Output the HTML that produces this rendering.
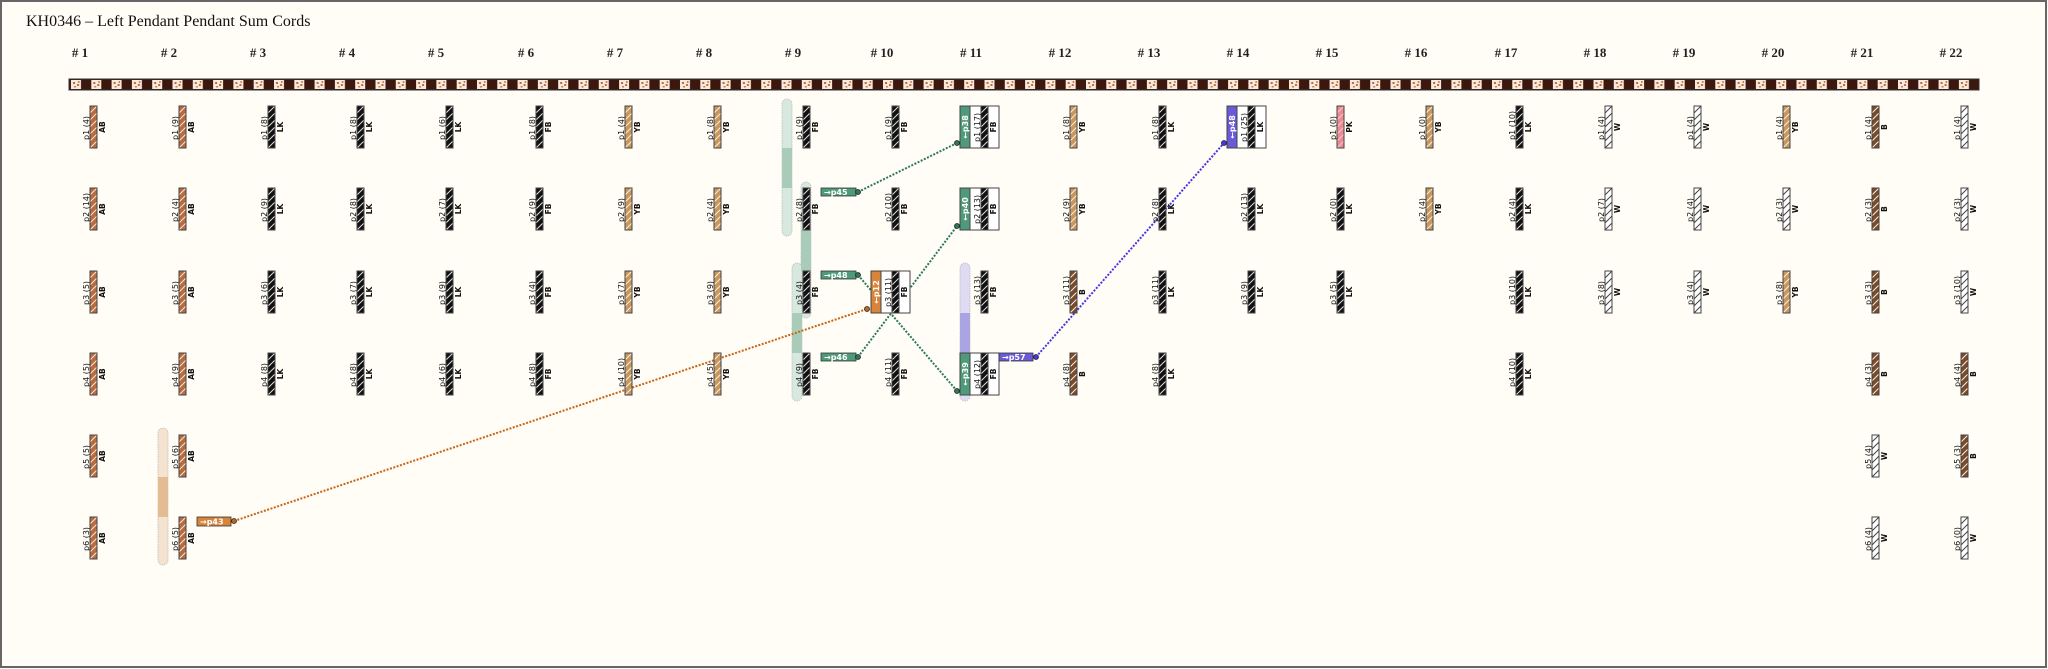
<!DOCTYPE html>
<html><head><meta charset="utf-8"><style>
html,body{margin:0;padding:0;background:#fffdf6;}
svg{display:block}
.l{font-family:"DejaVu Sans","Liberation Sans",sans-serif;font-size:8px;fill:#111;}
.c{font-family:"DejaVu Sans","Liberation Sans",sans-serif;font-size:7.5px;font-weight:bold;fill:#111;text-anchor:middle;}
.h{font-family:"Liberation Serif",serif;font-size:13px;font-weight:bold;fill:#222;text-anchor:middle;}
.t{font-family:"DejaVu Sans","Liberation Sans",sans-serif;font-size:8px;font-weight:bold;fill:#fff;}
.pd{stroke:#444;stroke-width:1;}
</style></head><body>
<svg width="2048" height="669" viewBox="0 0 2048 669" xmlns="http://www.w3.org/2000/svg">
<defs>
<pattern id="AB" width="7" height="7" patternUnits="userSpaceOnUse"><rect width="7" height="7" fill="#b96b3d"/><path d="M0 7L7 0" stroke="#f4e6dc" stroke-width="1"/></pattern>
<pattern id="B" width="7" height="7" patternUnits="userSpaceOnUse"><rect width="7" height="7" fill="#7b4a28"/><path d="M0 7L7 0" stroke="#eee" stroke-width="1"/></pattern>
<pattern id="YB" width="7" height="7" patternUnits="userSpaceOnUse"><rect width="7" height="7" fill="#c9965c"/><path d="M0 7L7 0" stroke="#f6eee0" stroke-width="1"/></pattern>
<pattern id="K" width="7" height="7" patternUnits="userSpaceOnUse"><rect width="7" height="7" fill="#111"/><path d="M0 7L7 0" stroke="#ddd" stroke-width="1"/></pattern>
<pattern id="W" width="7" height="7" patternUnits="userSpaceOnUse"><rect width="7" height="7" fill="#fff"/><path d="M0 7L7 0" stroke="#444" stroke-width="1"/></pattern>
<pattern id="PK" width="7" height="7" patternUnits="userSpaceOnUse"><rect width="7" height="7" fill="#ec8c8a"/><path d="M0 7L7 0" stroke="#fbe" stroke-width="1"/></pattern>
<pattern id="PC" x="69" y="79" width="20.3" height="11" patternUnits="userSpaceOnUse"><rect width="20.3" height="11" fill="#3b170d"/><rect x="2" y="1" width="10" height="9" fill="#f7ebe0"/><rect x="4" y="3" width="2" height="2" fill="#c8662e"/><rect x="8" y="5" width="2" height="2" fill="#c8662e"/><rect x="5" y="7" width="2" height="1.5" fill="#d07a44"/><rect x="9" y="2" width="1.5" height="2" fill="#d07a44"/></pattern>
</defs>
<rect x="1" y="1" width="2045" height="666" fill="#fffdf6" stroke="#666" stroke-width="2"/>
<text x="26" y="26" font-family="Liberation Serif,serif" font-size="16" fill="#111">KH0346 – Left Pendant Pendant Sum Cords</text>
<g>
<text class="h" x="80" y="57"># 1</text><text class="h" x="169" y="57"># 2</text><text class="h" x="258" y="57"># 3</text><text class="h" x="347" y="57"># 4</text><text class="h" x="436" y="57"># 5</text><text class="h" x="526" y="57"># 6</text><text class="h" x="615" y="57"># 7</text><text class="h" x="704" y="57"># 8</text><text class="h" x="793" y="57"># 9</text><text class="h" x="882" y="57"># 10</text><text class="h" x="971" y="57"># 11</text><text class="h" x="1060" y="57"># 12</text><text class="h" x="1149" y="57"># 13</text><text class="h" x="1238" y="57"># 14</text><text class="h" x="1327" y="57"># 15</text><text class="h" x="1416" y="57"># 16</text><text class="h" x="1506" y="57"># 17</text><text class="h" x="1595" y="57"># 18</text><text class="h" x="1684" y="57"># 19</text><text class="h" x="1773" y="57"># 20</text><text class="h" x="1862" y="57"># 21</text><text class="h" x="1951" y="57"># 22</text>
</g>
<rect x="69" y="79" width="1910" height="11" fill="url(#PC)" stroke="#333" stroke-width="1"/>

<!-- pills -->
<g stroke="#bbb" stroke-width="0.8" stroke-dasharray="1.5 1">
<rect x="782" y="99" width="10" height="137" rx="5" fill="#d7e9de"/>
<rect x="801" y="182" width="10" height="136" rx="5" fill="#d7e9de"/>
<rect x="792" y="263" width="10" height="138" rx="5" fill="#d7e9de"/>
<rect x="960" y="263" width="10" height="138" rx="5" fill="#dedbf2"/>
<rect x="158" y="428" width="10" height="137" rx="5" fill="#f3e3cf"/>
</g>
<rect x="782" y="148" width="10" height="40" fill="#a9ccb8"/>
<rect x="801" y="230" width="10" height="41" fill="#a9ccb8"/>
<rect x="792" y="313" width="10" height="40" fill="#a9ccb8"/>
<rect x="960" y="313" width="10" height="40" fill="#aaa4e2"/>
<rect x="158" y="477" width="10" height="40" fill="#e3bc93"/>

<!-- connector lines -->
<g fill="none" stroke-width="2" stroke-dasharray="2 1.5">
<path d="M858 192L957 143M858 275L957 391M858 357L957 226" stroke="#2a7a5a"/>
<path d="M234 521L867 309" stroke="#c86416"/>
<path d="M1036 357L1224 143" stroke="#4636e0"/>
</g>

<!-- pendants -->
<g id="c1">
<g transform="translate(90,106)"><rect class="pd" fill="url(#AB)" width="7" height="42"/><text class="l" transform="translate(-1,34) rotate(-90)">p1 (4)</text><text class="c" transform="translate(15,21) rotate(-90)">AB</text></g>
<g transform="translate(90,188)"><rect class="pd" fill="url(#AB)" width="7" height="42"/><text class="l" transform="translate(-1,34) rotate(-90)">p2 (14)</text><text class="c" transform="translate(15,21) rotate(-90)">AB</text></g>
<g transform="translate(90,271)"><rect class="pd" fill="url(#AB)" width="7" height="42"/><text class="l" transform="translate(-1,34) rotate(-90)">p3 (5)</text><text class="c" transform="translate(15,21) rotate(-90)">AB</text></g>
<g transform="translate(90,353)"><rect class="pd" fill="url(#AB)" width="7" height="42"/><text class="l" transform="translate(-1,34) rotate(-90)">p4 (5)</text><text class="c" transform="translate(15,21) rotate(-90)">AB</text></g>
<g transform="translate(90,435)"><rect class="pd" fill="url(#AB)" width="7" height="42"/><text class="l" transform="translate(-1,34) rotate(-90)">p5 (5)</text><text class="c" transform="translate(15,21) rotate(-90)">AB</text></g>
<g transform="translate(90,517)"><rect class="pd" fill="url(#AB)" width="7" height="42"/><text class="l" transform="translate(-1,34) rotate(-90)">p6 (3)</text><text class="c" transform="translate(15,21) rotate(-90)">AB</text></g>
</g>
<g id="c2">
<g transform="translate(179,106)"><rect class="pd" fill="url(#AB)" width="7" height="42"/><text class="l" transform="translate(-1,34) rotate(-90)">p1 (9)</text><text class="c" transform="translate(15,21) rotate(-90)">AB</text></g>
<g transform="translate(179,188)"><rect class="pd" fill="url(#AB)" width="7" height="42"/><text class="l" transform="translate(-1,34) rotate(-90)">p2 (4)</text><text class="c" transform="translate(15,21) rotate(-90)">AB</text></g>
<g transform="translate(179,271)"><rect class="pd" fill="url(#AB)" width="7" height="42"/><text class="l" transform="translate(-1,34) rotate(-90)">p3 (5)</text><text class="c" transform="translate(15,21) rotate(-90)">AB</text></g>
<g transform="translate(179,353)"><rect class="pd" fill="url(#AB)" width="7" height="42"/><text class="l" transform="translate(-1,34) rotate(-90)">p4 (9)</text><text class="c" transform="translate(15,21) rotate(-90)">AB</text></g>
<g transform="translate(179,435)"><rect class="pd" fill="url(#AB)" width="7" height="42"/><text class="l" transform="translate(-1,34) rotate(-90)">p5 (6)</text><text class="c" transform="translate(15,21) rotate(-90)">AB</text></g>
<g transform="translate(179,517)"><rect class="pd" fill="url(#AB)" width="7" height="42"/><text class="l" transform="translate(-1,34) rotate(-90)">p6 (5)</text><text class="c" transform="translate(15,21) rotate(-90)">AB</text></g>
</g>
<g>
<g transform="translate(268,106)"><rect class="pd" fill="url(#K)" width="7" height="42"/><text class="l" transform="translate(-1,34) rotate(-90)">p1 (8)</text><text class="c" transform="translate(15,21) rotate(-90)">LK</text></g>
<g transform="translate(268,188)"><rect class="pd" fill="url(#K)" width="7" height="42"/><text class="l" transform="translate(-1,34) rotate(-90)">p2 (9)</text><text class="c" transform="translate(15,21) rotate(-90)">LK</text></g>
<g transform="translate(268,271)"><rect class="pd" fill="url(#K)" width="7" height="42"/><text class="l" transform="translate(-1,34) rotate(-90)">p3 (6)</text><text class="c" transform="translate(15,21) rotate(-90)">LK</text></g>
<g transform="translate(268,353)"><rect class="pd" fill="url(#K)" width="7" height="42"/><text class="l" transform="translate(-1,34) rotate(-90)">p4 (8)</text><text class="c" transform="translate(15,21) rotate(-90)">LK</text></g>
<g transform="translate(357,106)"><rect class="pd" fill="url(#K)" width="7" height="42"/><text class="l" transform="translate(-1,34) rotate(-90)">p1 (8)</text><text class="c" transform="translate(15,21) rotate(-90)">LK</text></g>
<g transform="translate(357,188)"><rect class="pd" fill="url(#K)" width="7" height="42"/><text class="l" transform="translate(-1,34) rotate(-90)">p2 (8)</text><text class="c" transform="translate(15,21) rotate(-90)">LK</text></g>
<g transform="translate(357,271)"><rect class="pd" fill="url(#K)" width="7" height="42"/><text class="l" transform="translate(-1,34) rotate(-90)">p3 (7)</text><text class="c" transform="translate(15,21) rotate(-90)">LK</text></g>
<g transform="translate(357,353)"><rect class="pd" fill="url(#K)" width="7" height="42"/><text class="l" transform="translate(-1,34) rotate(-90)">p4 (8)</text><text class="c" transform="translate(15,21) rotate(-90)">LK</text></g>
<g transform="translate(446,106)"><rect class="pd" fill="url(#K)" width="7" height="42"/><text class="l" transform="translate(-1,34) rotate(-90)">p1 (6)</text><text class="c" transform="translate(15,21) rotate(-90)">LK</text></g>
<g transform="translate(446,188)"><rect class="pd" fill="url(#K)" width="7" height="42"/><text class="l" transform="translate(-1,34) rotate(-90)">p2 (7)</text><text class="c" transform="translate(15,21) rotate(-90)">LK</text></g>
<g transform="translate(446,271)"><rect class="pd" fill="url(#K)" width="7" height="42"/><text class="l" transform="translate(-1,34) rotate(-90)">p3 (9)</text><text class="c" transform="translate(15,21) rotate(-90)">LK</text></g>
<g transform="translate(446,353)"><rect class="pd" fill="url(#K)" width="7" height="42"/><text class="l" transform="translate(-1,34) rotate(-90)">p4 (6)</text><text class="c" transform="translate(15,21) rotate(-90)">LK</text></g>
<g transform="translate(536,106)"><rect class="pd" fill="url(#K)" width="7" height="42"/><text class="l" transform="translate(-1,34) rotate(-90)">p1 (8)</text><text class="c" transform="translate(15,21) rotate(-90)">FB</text></g>
<g transform="translate(536,188)"><rect class="pd" fill="url(#K)" width="7" height="42"/><text class="l" transform="translate(-1,34) rotate(-90)">p2 (9)</text><text class="c" transform="translate(15,21) rotate(-90)">FB</text></g>
<g transform="translate(536,271)"><rect class="pd" fill="url(#K)" width="7" height="42"/><text class="l" transform="translate(-1,34) rotate(-90)">p3 (4)</text><text class="c" transform="translate(15,21) rotate(-90)">FB</text></g>
<g transform="translate(536,353)"><rect class="pd" fill="url(#K)" width="7" height="42"/><text class="l" transform="translate(-1,34) rotate(-90)">p4 (8)</text><text class="c" transform="translate(15,21) rotate(-90)">FB</text></g>
<g transform="translate(625,106)"><rect class="pd" fill="url(#YB)" width="7" height="42"/><text class="l" transform="translate(-1,34) rotate(-90)">p1 (4)</text><text class="c" transform="translate(15,21) rotate(-90)">YB</text></g>
<g transform="translate(625,188)"><rect class="pd" fill="url(#YB)" width="7" height="42"/><text class="l" transform="translate(-1,34) rotate(-90)">p2 (9)</text><text class="c" transform="translate(15,21) rotate(-90)">YB</text></g>
<g transform="translate(625,271)"><rect class="pd" fill="url(#YB)" width="7" height="42"/><text class="l" transform="translate(-1,34) rotate(-90)">p3 (7)</text><text class="c" transform="translate(15,21) rotate(-90)">YB</text></g>
<g transform="translate(625,353)"><rect class="pd" fill="url(#YB)" width="7" height="42"/><text class="l" transform="translate(-1,34) rotate(-90)">p4 (10)</text><text class="c" transform="translate(15,21) rotate(-90)">YB</text></g>
<g transform="translate(714,106)"><rect class="pd" fill="url(#YB)" width="7" height="42"/><text class="l" transform="translate(-1,34) rotate(-90)">p1 (8)</text><text class="c" transform="translate(15,21) rotate(-90)">YB</text></g>
<g transform="translate(714,188)"><rect class="pd" fill="url(#YB)" width="7" height="42"/><text class="l" transform="translate(-1,34) rotate(-90)">p2 (4)</text><text class="c" transform="translate(15,21) rotate(-90)">YB</text></g>
<g transform="translate(714,271)"><rect class="pd" fill="url(#YB)" width="7" height="42"/><text class="l" transform="translate(-1,34) rotate(-90)">p3 (9)</text><text class="c" transform="translate(15,21) rotate(-90)">YB</text></g>
<g transform="translate(714,353)"><rect class="pd" fill="url(#YB)" width="7" height="42"/><text class="l" transform="translate(-1,34) rotate(-90)">p4 (5)</text><text class="c" transform="translate(15,21) rotate(-90)">YB</text></g>
<!-- col9 -->
<g transform="translate(803,106)"><rect class="pd" fill="url(#K)" width="7" height="42"/><text class="l" transform="translate(-1,34) rotate(-90)">p1 (9)</text><text class="c" transform="translate(15,21) rotate(-90)">FB</text></g>
<g transform="translate(803,188)"><rect class="pd" fill="url(#K)" width="7" height="42"/><text class="l" transform="translate(-1,34) rotate(-90)">p2 (8)</text><text class="c" transform="translate(15,21) rotate(-90)">FB</text></g>
<g transform="translate(803,271)"><rect class="pd" fill="url(#K)" width="7" height="42"/><text class="l" transform="translate(-1,34) rotate(-90)">p3 (4)</text><text class="c" transform="translate(15,21) rotate(-90)">FB</text></g>
<g transform="translate(803,353)"><rect class="pd" fill="url(#K)" width="7" height="42"/><text class="l" transform="translate(-1,34) rotate(-90)">p4 (9)</text><text class="c" transform="translate(15,21) rotate(-90)">FB</text></g>
<!-- col10 -->
<g transform="translate(892,106)"><rect class="pd" fill="url(#K)" width="7" height="42"/><text class="l" transform="translate(-1,34) rotate(-90)">p1 (9)</text><text class="c" transform="translate(15,21) rotate(-90)">FB</text></g>
<g transform="translate(892,188)"><rect class="pd" fill="url(#K)" width="7" height="42"/><text class="l" transform="translate(-1,34) rotate(-90)">p2 (10)</text><text class="c" transform="translate(15,21) rotate(-90)">FB</text></g>
<g transform="translate(892,271)"><rect x="-21" width="39" height="42" fill="#fff" stroke="#444"/><rect x="-21" width="10" height="42" fill="#d8843a" stroke="#444"/><text class="t" text-anchor="middle" transform="translate(-13,21) rotate(-90)">←p12</text><rect class="pd" fill="url(#K)" width="7" height="42"/><text class="l" transform="translate(-1,36) rotate(-90)">p3 (11)</text><text class="c" transform="translate(15,21) rotate(-90)">FB</text></g>
<g transform="translate(892,353)"><rect class="pd" fill="url(#K)" width="7" height="42"/><text class="l" transform="translate(-1,34) rotate(-90)">p4 (11)</text><text class="c" transform="translate(15,21) rotate(-90)">FB</text></g>
<!-- col11 -->
<g transform="translate(981,106)"><rect x="-21" width="39" height="42" fill="#fff" stroke="#444"/><rect x="-21" width="10" height="42" fill="#4f9a7a" stroke="#444"/><text class="t" text-anchor="middle" transform="translate(-13,21) rotate(-90)">←p38</text><rect class="pd" fill="url(#K)" width="7" height="42"/><text class="l" transform="translate(-1,36) rotate(-90)">p1 (17)</text><text class="c" transform="translate(15,21) rotate(-90)">FB</text></g>
<g transform="translate(981,188)"><rect x="-21" width="39" height="42" fill="#fff" stroke="#444"/><rect x="-21" width="10" height="42" fill="#4f9a7a" stroke="#444"/><text class="t" text-anchor="middle" transform="translate(-13,21) rotate(-90)">←p40</text><rect class="pd" fill="url(#K)" width="7" height="42"/><text class="l" transform="translate(-1,36) rotate(-90)">p2 (13)</text><text class="c" transform="translate(15,21) rotate(-90)">FB</text></g>
<g transform="translate(981,271)"><rect class="pd" fill="url(#K)" width="7" height="42"/><text class="l" transform="translate(-1,34) rotate(-90)">p3 (13)</text><text class="c" transform="translate(15,21) rotate(-90)">FB</text></g>
<g transform="translate(981,353)"><rect x="-21" width="39" height="42" fill="#fff" stroke="#444"/><rect x="-21" width="10" height="42" fill="#4f9a7a" stroke="#444"/><text class="t" text-anchor="middle" transform="translate(-13,21) rotate(-90)">←p39</text><rect class="pd" fill="url(#K)" width="7" height="42"/><text class="l" transform="translate(-1,36) rotate(-90)">p4 (12)</text><text class="c" transform="translate(15,21) rotate(-90)">FB</text></g>
<!-- col12 -->
<g transform="translate(1070,106)"><rect class="pd" fill="url(#YB)" width="7" height="42"/><text class="l" transform="translate(-1,34) rotate(-90)">p1 (8)</text><text class="c" transform="translate(15,21) rotate(-90)">YB</text></g>
<g transform="translate(1070,188)"><rect class="pd" fill="url(#YB)" width="7" height="42"/><text class="l" transform="translate(-1,34) rotate(-90)">p2 (9)</text><text class="c" transform="translate(15,21) rotate(-90)">YB</text></g>
<g transform="translate(1070,271)"><rect class="pd" fill="url(#B)" width="7" height="42"/><text class="l" transform="translate(-1,34) rotate(-90)">p3 (11)</text><text class="c" transform="translate(15,21) rotate(-90)">B</text></g>
<g transform="translate(1070,353)"><rect class="pd" fill="url(#B)" width="7" height="42"/><text class="l" transform="translate(-1,34) rotate(-90)">p4 (8)</text><text class="c" transform="translate(15,21) rotate(-90)">B</text></g>
<!-- col13 -->
<g transform="translate(1159,106)"><rect class="pd" fill="url(#K)" width="7" height="42"/><text class="l" transform="translate(-1,34) rotate(-90)">p1 (8)</text><text class="c" transform="translate(15,21) rotate(-90)">LK</text></g>
<g transform="translate(1159,188)"><rect class="pd" fill="url(#K)" width="7" height="42"/><text class="l" transform="translate(-1,34) rotate(-90)">p2 (8)</text><text class="c" transform="translate(15,21) rotate(-90)">LK</text></g>
<g transform="translate(1159,271)"><rect class="pd" fill="url(#K)" width="7" height="42"/><text class="l" transform="translate(-1,34) rotate(-90)">p3 (11)</text><text class="c" transform="translate(15,21) rotate(-90)">LK</text></g>
<g transform="translate(1159,353)"><rect class="pd" fill="url(#K)" width="7" height="42"/><text class="l" transform="translate(-1,34) rotate(-90)">p4 (8)</text><text class="c" transform="translate(15,21) rotate(-90)">LK</text></g>
<!-- col14 -->
<g transform="translate(1248,106)"><rect x="-21" width="39" height="42" fill="#fff" stroke="#444"/><rect x="-21" width="10" height="42" fill="#6a5ad8" stroke="#444"/><text class="t" text-anchor="middle" transform="translate(-13,21) rotate(-90)">←p48</text><rect class="pd" fill="url(#K)" width="7" height="42"/><text class="l" transform="translate(-1,36) rotate(-90)">p1 (25)</text><text class="c" transform="translate(15,21) rotate(-90)">LK</text></g>
<g transform="translate(1248,188)"><rect class="pd" fill="url(#K)" width="7" height="42"/><text class="l" transform="translate(-1,34) rotate(-90)">p2 (13)</text><text class="c" transform="translate(15,21) rotate(-90)">LK</text></g>
<g transform="translate(1248,271)"><rect class="pd" fill="url(#K)" width="7" height="42"/><text class="l" transform="translate(-1,34) rotate(-90)">p3 (9)</text><text class="c" transform="translate(15,21) rotate(-90)">LK</text></g>
<!-- col15 -->
<g transform="translate(1337,106)"><rect class="pd" fill="url(#PK)" width="7" height="42"/><text class="l" transform="translate(-1,34) rotate(-90)">p1 (0)</text><text class="c" transform="translate(15,21) rotate(-90)">PK</text></g>
<g transform="translate(1337,188)"><rect class="pd" fill="url(#K)" width="7" height="42"/><text class="l" transform="translate(-1,34) rotate(-90)">p2 (0)</text><text class="c" transform="translate(15,21) rotate(-90)">LK</text></g>
<g transform="translate(1337,271)"><rect class="pd" fill="url(#K)" width="7" height="42"/><text class="l" transform="translate(-1,34) rotate(-90)">p3 (5)</text><text class="c" transform="translate(15,21) rotate(-90)">LK</text></g>
<!-- col16 -->
<g transform="translate(1426,106)"><rect class="pd" fill="url(#YB)" width="7" height="42"/><text class="l" transform="translate(-1,34) rotate(-90)">p1 (0)</text><text class="c" transform="translate(15,21) rotate(-90)">YB</text></g>
<g transform="translate(1426,188)"><rect class="pd" fill="url(#YB)" width="7" height="42"/><text class="l" transform="translate(-1,34) rotate(-90)">p2 (4)</text><text class="c" transform="translate(15,21) rotate(-90)">YB</text></g>
<!-- col17 -->
<g transform="translate(1516,106)"><rect class="pd" fill="url(#K)" width="7" height="42"/><text class="l" transform="translate(-1,34) rotate(-90)">p1 (10)</text><text class="c" transform="translate(15,21) rotate(-90)">LK</text></g>
<g transform="translate(1516,188)"><rect class="pd" fill="url(#K)" width="7" height="42"/><text class="l" transform="translate(-1,34) rotate(-90)">p2 (4)</text><text class="c" transform="translate(15,21) rotate(-90)">LK</text></g>
<g transform="translate(1516,271)"><rect class="pd" fill="url(#K)" width="7" height="42"/><text class="l" transform="translate(-1,34) rotate(-90)">p3 (10)</text><text class="c" transform="translate(15,21) rotate(-90)">LK</text></g>
<g transform="translate(1516,353)"><rect class="pd" fill="url(#K)" width="7" height="42"/><text class="l" transform="translate(-1,34) rotate(-90)">p4 (10)</text><text class="c" transform="translate(15,21) rotate(-90)">LK</text></g>
<!-- col18 -->
<g transform="translate(1605,106)"><rect class="pd" fill="url(#W)" width="7" height="42"/><text class="l" transform="translate(-1,34) rotate(-90)">p1 (4)</text><text class="c" transform="translate(15,21) rotate(-90)">W</text></g>
<g transform="translate(1605,188)"><rect class="pd" fill="url(#W)" width="7" height="42"/><text class="l" transform="translate(-1,34) rotate(-90)">p2 (7)</text><text class="c" transform="translate(15,21) rotate(-90)">W</text></g>
<g transform="translate(1605,271)"><rect class="pd" fill="url(#W)" width="7" height="42"/><text class="l" transform="translate(-1,34) rotate(-90)">p3 (8)</text><text class="c" transform="translate(15,21) rotate(-90)">W</text></g>
<!-- col19 -->
<g transform="translate(1694,106)"><rect class="pd" fill="url(#W)" width="7" height="42"/><text class="l" transform="translate(-1,34) rotate(-90)">p1 (4)</text><text class="c" transform="translate(15,21) rotate(-90)">W</text></g>
<g transform="translate(1694,188)"><rect class="pd" fill="url(#W)" width="7" height="42"/><text class="l" transform="translate(-1,34) rotate(-90)">p2 (4)</text><text class="c" transform="translate(15,21) rotate(-90)">W</text></g>
<g transform="translate(1694,271)"><rect class="pd" fill="url(#W)" width="7" height="42"/><text class="l" transform="translate(-1,34) rotate(-90)">p3 (4)</text><text class="c" transform="translate(15,21) rotate(-90)">W</text></g>
<!-- col20 -->
<g transform="translate(1783,106)"><rect class="pd" fill="url(#YB)" width="7" height="42"/><text class="l" transform="translate(-1,34) rotate(-90)">p1 (4)</text><text class="c" transform="translate(15,21) rotate(-90)">YB</text></g>
<g transform="translate(1783,188)"><rect class="pd" fill="url(#W)" width="7" height="42"/><text class="l" transform="translate(-1,34) rotate(-90)">p2 (3)</text><text class="c" transform="translate(15,21) rotate(-90)">W</text></g>
<g transform="translate(1783,271)"><rect class="pd" fill="url(#YB)" width="7" height="42"/><text class="l" transform="translate(-1,34) rotate(-90)">p3 (8)</text><text class="c" transform="translate(15,21) rotate(-90)">YB</text></g>
<!-- col21 -->
<g transform="translate(1872,106)"><rect class="pd" fill="url(#B)" width="7" height="42"/><text class="l" transform="translate(-1,34) rotate(-90)">p1 (4)</text><text class="c" transform="translate(15,21) rotate(-90)">B</text></g>
<g transform="translate(1872,188)"><rect class="pd" fill="url(#B)" width="7" height="42"/><text class="l" transform="translate(-1,34) rotate(-90)">p2 (3)</text><text class="c" transform="translate(15,21) rotate(-90)">B</text></g>
<g transform="translate(1872,271)"><rect class="pd" fill="url(#B)" width="7" height="42"/><text class="l" transform="translate(-1,34) rotate(-90)">p3 (3)</text><text class="c" transform="translate(15,21) rotate(-90)">B</text></g>
<g transform="translate(1872,353)"><rect class="pd" fill="url(#B)" width="7" height="42"/><text class="l" transform="translate(-1,34) rotate(-90)">p4 (3)</text><text class="c" transform="translate(15,21) rotate(-90)">B</text></g>
<g transform="translate(1872,435)"><rect class="pd" fill="url(#W)" width="7" height="42"/><text class="l" transform="translate(-1,34) rotate(-90)">p5 (4)</text><text class="c" transform="translate(15,21) rotate(-90)">W</text></g>
<g transform="translate(1872,517)"><rect class="pd" fill="url(#W)" width="7" height="42"/><text class="l" transform="translate(-1,34) rotate(-90)">p6 (4)</text><text class="c" transform="translate(15,21) rotate(-90)">W</text></g>
<!-- col22 -->
<g transform="translate(1961,106)"><rect class="pd" fill="url(#W)" width="7" height="42"/><text class="l" transform="translate(-1,34) rotate(-90)">p1 (4)</text><text class="c" transform="translate(15,21) rotate(-90)">W</text></g>
<g transform="translate(1961,188)"><rect class="pd" fill="url(#W)" width="7" height="42"/><text class="l" transform="translate(-1,34) rotate(-90)">p2 (3)</text><text class="c" transform="translate(15,21) rotate(-90)">W</text></g>
<g transform="translate(1961,271)"><rect class="pd" fill="url(#W)" width="7" height="42"/><text class="l" transform="translate(-1,34) rotate(-90)">p3 (10)</text><text class="c" transform="translate(15,21) rotate(-90)">W</text></g>
<g transform="translate(1961,353)"><rect class="pd" fill="url(#B)" width="7" height="42"/><text class="l" transform="translate(-1,34) rotate(-90)">p4 (4)</text><text class="c" transform="translate(15,21) rotate(-90)">B</text></g>
<g transform="translate(1961,435)"><rect class="pd" fill="url(#B)" width="7" height="42"/><text class="l" transform="translate(-1,34) rotate(-90)">p5 (3)</text><text class="c" transform="translate(15,21) rotate(-90)">B</text></g>
<g transform="translate(1961,517)"><rect class="pd" fill="url(#W)" width="7" height="42"/><text class="l" transform="translate(-1,34) rotate(-90)">p6 (0)</text><text class="c" transform="translate(15,21) rotate(-90)">W</text></g>
</g>

<!-- tags -->
<g stroke="#333" stroke-width="0.8">
<rect x="821" y="188" width="35" height="8" fill="#4f9a7a"/>
<rect x="821" y="271" width="35" height="8" fill="#4f9a7a"/>
<rect x="821" y="353" width="35" height="8" fill="#4f9a7a"/>
<rect x="197" y="517" width="34" height="9" fill="#d8843a"/>
<rect x="999" y="353" width="34" height="8" fill="#6a5ad8"/>
</g>
<text class="t" x="824" y="195">→p45</text>
<text class="t" x="824" y="278">→p48</text>
<text class="t" x="824" y="360">→p46</text>
<text class="t" x="200" y="524.5">→p43</text>
<text class="t" x="1002" y="360">→p57</text>

<!-- dots -->
<g stroke="#222" stroke-width="0.8">
<circle cx="858" cy="192" r="2.5" fill="#2a7a5a"/><circle cx="858" cy="275" r="2.5" fill="#2a7a5a"/><circle cx="858" cy="357" r="2.5" fill="#2a7a5a"/>
<circle cx="957" cy="143" r="2.5" fill="#2a7a5a"/><circle cx="957" cy="226" r="2.5" fill="#2a7a5a"/><circle cx="957" cy="391" r="2.5" fill="#2a7a5a"/>
<circle cx="234" cy="521" r="2.5" fill="#c86416"/><circle cx="867" cy="309" r="2.5" fill="#c86416"/>
<circle cx="1036" cy="357" r="2.5" fill="#4636e0"/><circle cx="1224" cy="143" r="2.5" fill="#4636e0"/>
</g>
</svg>
</body></html>
